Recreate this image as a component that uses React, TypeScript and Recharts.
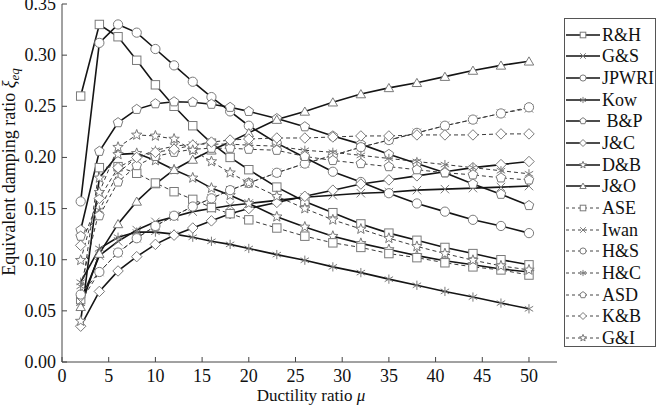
import React from 'react'
import { LineChart, Line, XAxis, YAxis } from 'recharts'

const mu = [2, 4, 6, 8, 10, 12, 14, 16, 18, 20, 23, 26, 29, 32, 35, 38, 41, 44, 47, 50]

const rh = [0.260, 0.330, 0.318, 0.295, 0.271, 0.250, 0.231, 0.214, 0.200, 0.188, 0.171, 0.157, 0.146, 0.135, 0.126, 0.119, 0.112, 0.106, 0.100, 0.095]
const gs = [0.059, 0.104, 0.118, 0.129, 0.137, 0.142, 0.147, 0.150, 0.153, 0.155, 0.158, 0.161, 0.163, 0.165, 0.166, 0.168, 0.169, 0.170, 0.171, 0.172]
const jpwri = [0.157, 0.312, 0.330, 0.322, 0.306, 0.290, 0.274, 0.259, 0.245, 0.231, 0.214, 0.200, 0.186, 0.176, 0.165, 0.155, 0.147, 0.139, 0.133, 0.126]
const kow = [0.078, 0.111, 0.122, 0.127, 0.127, 0.125, 0.122, 0.118, 0.115, 0.111, 0.105, 0.0995, 0.093, 0.0874, 0.081, 0.075, 0.069, 0.0635, 0.0576, 0.052]
const bp = [0.129, 0.206, 0.234, 0.247, 0.2525, 0.2544, 0.254, 0.252, 0.249, 0.245, 0.238, 0.230, 0.221, 0.213, 0.203, 0.194, 0.185, 0.174, 0.164, 0.153]
const jc = [0.035, 0.069, 0.089, 0.103, 0.115, 0.124, 0.131, 0.138, 0.145, 0.150, 0.156, 0.162, 0.168, 0.174, 0.178, 0.182, 0.186, 0.190, 0.193, 0.196]
const db = [0.040, 0.180, 0.203, 0.204, 0.197, 0.188, 0.180, 0.170, 0.163, 0.155, 0.142, 0.132, 0.123, 0.116, 0.110, 0.104, 0.099, 0.095, 0.091, 0.088]
const jo = [0.054, 0.106, 0.135, 0.157, 0.174, 0.188, 0.198, 0.207, 0.215, 0.224, 0.237, 0.245, 0.254, 0.262, 0.268, 0.273, 0.279, 0.285, 0.290, 0.294]
const ase = [0.061, 0.190, 0.191, 0.1845, 0.175, 0.1665, 0.159, 0.151, 0.145, 0.139, 0.131, 0.123, 0.1165, 0.112, 0.106, 0.102, 0.097, 0.093, 0.090, 0.085]
const iwan = [0.059, 0.088, 0.107, 0.121, 0.133, 0.143, 0.152, 0.160, 0.168, 0.175, 0.185, 0.194, 0.202, 0.210, 0.217, 0.224, 0.231, 0.237, 0.243, 0.248]
const hs = [0.066, 0.088, 0.107, 0.121, 0.133, 0.143, 0.152, 0.160, 0.168, 0.175, 0.185, 0.194, 0.202, 0.210, 0.217, 0.224, 0.231, 0.237, 0.243, 0.249]
const hc = [0.074, 0.1485, 0.185, 0.200, 0.207, 0.211, 0.213, 0.213, 0.213, 0.212, 0.211, 0.207, 0.205, 0.202, 0.199, 0.196, 0.193, 0.190, 0.187, 0.184]
const asd = [0.123, 0.143, 0.176, 0.192, 0.201, 0.205, 0.208, 0.209, 0.209, 0.208, 0.207, 0.201, 0.197, 0.194, 0.191, 0.188, 0.185, 0.183, 0.180, 0.178]
const kb = [0.114, 0.160, 0.190, 0.200, 0.205, 0.208, 0.212, 0.215, 0.217, 0.218, 0.219, 0.219, 0.220, 0.221, 0.221, 0.222, 0.222, 0.222, 0.223, 0.223]
const gi = [0.0995, 0.166, 0.210, 0.222, 0.221, 0.218, 0.207, 0.196, 0.185, 0.175, 0.162, 0.150, 0.139, 0.130, 0.121, 0.113, 0.106, 0.0995, 0.094, 0.090]

const xTicks = [0, 5, 10, 15, 20, 25, 30, 35, 40, 45, 50]
const yTicks = [0, 0.05, 0.1, 0.15, 0.2, 0.25, 0.3, 0.35]

const series = [
  { name: 'R&H', values: rh, shape: 'square', dashed: false },
  { name: 'G&S', values: gs, shape: 'cross', dashed: false },
  { name: 'JPWRI', values: jpwri, shape: 'circle', dashed: false },
  { name: 'Kow', values: kow, shape: 'asterisk', dashed: false },
  { name: ' B&P', values: bp, shape: 'pentagon', dashed: false },
  { name: 'J&C', values: jc, shape: 'diamond', dashed: false },
  { name: 'D&B', values: db, shape: 'star', dashed: false },
  { name: 'J&O', values: jo, shape: 'triangle', dashed: false },
  { name: 'ASE', values: ase, shape: 'square', dashed: true },
  { name: 'Iwan', values: iwan, shape: 'cross', dashed: true },
  { name: 'H&S', values: hs, shape: 'circle', dashed: true },
  { name: 'H&C', values: hc, shape: 'asterisk', dashed: true },
  { name: 'ASD', values: asd, shape: 'pentagon', dashed: true },
  { name: 'K&B', values: kb, shape: 'diamond', dashed: true },
  { name: 'G&I', values: gi, shape: 'star', dashed: true },
]

const data = mu.map((m, i) => {
  const row: any = { mu: m }
  series.forEach((s, j) => { row['s' + j] = s.values[i] })
  return row
})

const FONT = '"Liberation Serif", "Times New Roman", serif'
const MARK = '#7a7a7a'

const poly = (cx: number, cy: number, n: number, r: number, rot: number) => {
  const pts = []
  for (let k = 0; k < n; k++) {
    const a = rot + (k * 2 * Math.PI) / n
    pts.push(`${cx + r * Math.cos(a)},${cy + r * Math.sin(a)}`)
  }
  return pts.join(' ')
}

const starPts = (cx: number, cy: number, ro: number, ri: number) => {
  const pts = []
  for (let k = 0; k < 10; k++) {
    const a = -Math.PI / 2 + (k * Math.PI) / 5
    const r = k % 2 === 0 ? ro : ri
    pts.push(`${cx + r * Math.cos(a)},${cy + r * Math.sin(a)}`)
  }
  return pts.join(' ')
}

function Marker({ shape, cx, cy, s }: { shape: string; cx: number; cy: number; s: number }) {
  const p = { stroke: MARK, strokeWidth: 1, fill: '#fff' }
  switch (shape) {
    case 'square':
      return <rect x={cx - s} y={cy - s} width={2 * s} height={2 * s} {...p} />
    case 'circle':
      return <circle cx={cx} cy={cy} r={s * 1.1} {...p} />
    case 'cross':
      return (
        <g stroke={MARK} strokeWidth={1}>
          <line x1={cx - s} y1={cy - s} x2={cx + s} y2={cy + s} />
          <line x1={cx - s} y1={cy + s} x2={cx + s} y2={cy - s} />
        </g>
      )
    case 'asterisk':
      return (
        <g stroke={MARK} strokeWidth={1}>
          <line x1={cx} y1={cy - s * 1.1} x2={cx} y2={cy + s * 1.1} />
          <line x1={cx - s} y1={cy - s * 0.6} x2={cx + s} y2={cy + s * 0.6} />
          <line x1={cx - s} y1={cy + s * 0.6} x2={cx + s} y2={cy - s * 0.6} />
        </g>
      )
    case 'pentagon':
      return <polygon points={poly(cx, cy, 5, s * 1.2, -Math.PI / 2)} {...p} />
    case 'diamond':
      return <polygon points={poly(cx, cy, 4, s * 1.25, -Math.PI / 2)} {...p} />
    case 'star':
      return <polygon points={starPts(cx, cy, s * 1.3, s * 0.55)} {...p} />
    case 'triangle':
      return <polygon points={poly(cx, cy + s * 0.25, 3, s * 1.3, -Math.PI / 2)} {...p} />
    default:
      return null
  }
}

const makeDot = (shape: string) => (props: any) => {
  const { cx, cy, index } = props
  if (cx == null || cy == null) return <g key={index} />
  return (
    <g key={index}>
      <Marker shape={shape} cx={cx} cy={cy} s={4.2} />
    </g>
  )
}

const BottomTick = (props: any) => {
  const { x, y, payload } = props
  return (
    <g>
      <line x1={x} x2={x} y1={y} y2={y - 5} stroke="#444" />
      <text x={x} y={y + 20} textAnchor="middle" fontFamily={FONT} fontSize={18} fill="#111">
        {payload.value}
      </text>
    </g>
  )
}

const TopTick = (props: any) => {
  const { x, y } = props
  return <line x1={x} x2={x} y1={y} y2={y + 5} stroke="#444" />
}

const LeftTick = (props: any) => {
  const { x, y, payload } = props
  return (
    <g>
      <line x1={x} x2={x + 5} y1={y} y2={y} stroke="#444" />
      <text x={x - 6} y={y + 6} textAnchor="end" fontFamily={FONT} fontSize={18} fill="#111">
        {payload.value.toFixed(2)}
      </text>
    </g>
  )
}

const RightTick = (props: any) => {
  const { x, y } = props
  return <line x1={x} x2={x - 5} y1={y} y2={y} stroke="#444" />
}

function LegendBox() {
  return (
    <div
      style={{
        position: 'absolute',
        left: 564,
        top: 18,
        width: 92,
        height: 329,
        border: '1px solid #555',
        background: '#fff',
        fontFamily: FONT,
        fontSize: 18,
        color: '#111',
        boxSizing: 'border-box',
        paddingTop: 5,
        overflow: 'hidden',
      }}
    >
      {series.map((s) => (
        <div key={s.name} style={{ display: 'flex', alignItems: 'center', height: 21.65, whiteSpace: 'pre' }}>
          <svg width={36} height={14} style={{ flex: 'none' }}>
            <line
              x1={1}
              x2={35}
              y1={7}
              y2={7}
              stroke={s.dashed ? '#444' : '#111'}
              strokeWidth={s.dashed ? 1 : 1.6}
              strokeDasharray={s.dashed ? '3 3' : undefined}
            />
            <Marker shape={s.shape} cx={18} cy={7} s={2.8} />
          </svg>
          <span style={{ marginLeft: 1, lineHeight: '20px' }}>{s.name}</span>
        </div>
      ))}
    </div>
  )
}

export default function App() {
  return (
    <div style={{ position: 'fixed', left: 0, top: 0, width: 660, height: 408, background: '#fff' }}>
      <LineChart width={660} height={408} data={data} margin={{ top: 4, right: 103, bottom: 0, left: 12 }}>
        <XAxis
          dataKey="mu"
          type="number"
          domain={[0, 53]}
          ticks={xTicks}
          allowDataOverflow
          height={46}
          tickSize={0}
          tickMargin={0}
          tickLine={false}
          axisLine={{ stroke: '#444' }}
          tick={<BottomTick />}
          interval={0}
        />
        <XAxis
          xAxisId="top"
          orientation="top"
          dataKey="mu"
          type="number"
          domain={[0, 53]}
          ticks={xTicks}
          allowDataOverflow
          height={0}
          tickSize={0}
          tickMargin={0}
          tickLine={false}
          axisLine={{ stroke: '#444' }}
          tick={<TopTick />}
          interval={0}
        />
        <YAxis
          type="number"
          domain={[0, 0.35]}
          ticks={yTicks}
          allowDataOverflow
          width={50}
          tickSize={0}
          tickMargin={0}
          tickLine={false}
          axisLine={{ stroke: '#444' }}
          tick={<LeftTick />}
          interval={0}
        />
        <YAxis
          yAxisId="right"
          orientation="right"
          type="number"
          domain={[0, 0.35]}
          ticks={yTicks}
          allowDataOverflow
          width={0}
          tickSize={0}
          tickMargin={0}
          tickLine={false}
          axisLine={{ stroke: '#444' }}
          tick={<RightTick />}
          interval={0}
        />
        {series.map((s, j) => (
          <Line
            key={s.name}
            dataKey={'s' + j}
            name={s.name}
            type="linear"
            stroke={s.dashed ? '#3a3a3a' : '#151515'}
            strokeWidth={s.dashed ? 1 : 1.6}
            strokeDasharray={s.dashed ? '4 3' : undefined}
            dot={makeDot(s.shape)}
            activeDot={false}
            isAnimationActive={false}
          />
        ))}
        <text x={311} y={401} textAnchor="middle" fontFamily={FONT} fontSize={17} fill="#111">
          Ductility ratio <tspan fontStyle="italic">μ</tspan>
        </text>
        <text
          transform="translate(15 172) rotate(-90)"
          textAnchor="middle"
          fontFamily={FONT}
          fontSize={18}
          fill="#111"
        >
          Equivalent damping ratio <tspan fontStyle="italic">ξ</tspan>
          <tspan fontStyle="italic" fontSize={13} dy={4}>eq</tspan>
        </text>
      </LineChart>
      <LegendBox />
    </div>
  )
}
